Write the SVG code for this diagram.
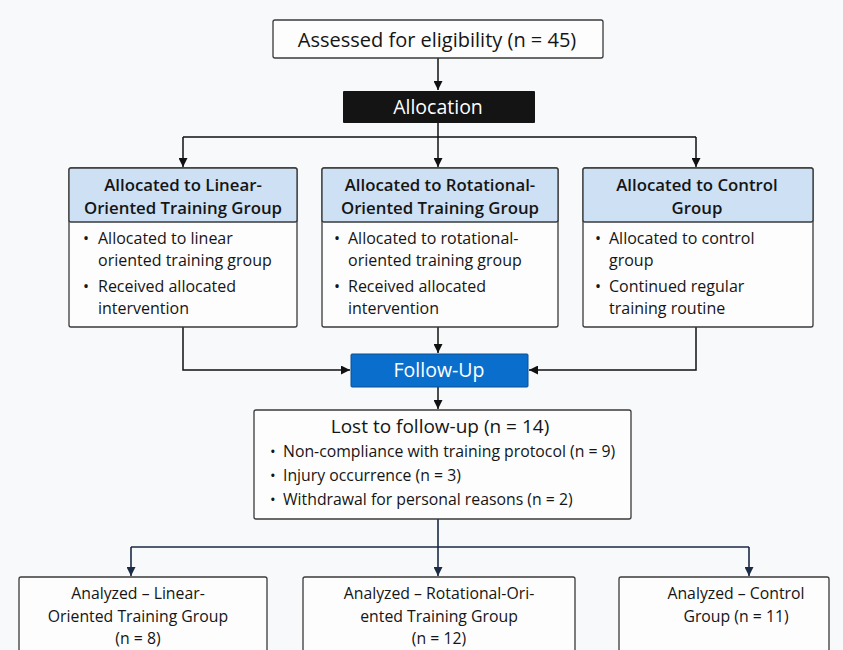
<svg xmlns="http://www.w3.org/2000/svg" width="843" height="650" viewBox="0 0 843 650">
<defs>
<marker id="ah" viewBox="0 0 10 10" refX="10" refY="5" markerWidth="9" markerHeight="9" markerUnits="userSpaceOnUse" orient="auto"><path d="M0,0 L10,5 L0,10 z" fill="#111"/></marker>
<marker id="ahn" viewBox="0 0 10 10" refX="10" refY="5" markerWidth="9" markerHeight="9" markerUnits="userSpaceOnUse" orient="auto"><path d="M0,0 L10,5 L0,10 z" fill="#1b2a45"/></marker>
<style>
text{font-family:"Open Sans","Noto Sans","Liberation Sans",sans-serif;fill:#151515}
.box{fill:#fdfdfd;stroke:#3a3a3a;stroke-width:1.3}
.hdr{fill:#cde0f4;stroke:#3a3a3a;stroke-width:1.3}
.ht{font-size:16.8px;font-weight:600;text-anchor:middle}
.bt{font-size:16px}
.ct{font-size:15.8px;text-anchor:middle}
.c{fill:none;stroke:#111;stroke-width:1.5}
.cn{fill:none;stroke:#1b2a45;stroke-width:1.6}
</style>
</defs>
<rect width="843" height="650" fill="#f8f9fa"/>
<g id="connectors">
<path class="c" d="M438,58 V90" marker-end="url(#ah)"/>
<path class="c" d="M438,123 V137 M183,137 H696"/>
<path class="c" d="M183,137 V167" marker-end="url(#ah)"/>
<path class="c" d="M438,137 V167" marker-end="url(#ah)"/>
<path class="c" d="M696,137 V167" marker-end="url(#ah)"/>
<path class="c" d="M183,327 V370 H350" marker-end="url(#ah)"/>
<path class="c" d="M696,327 V370 H529" marker-end="url(#ah)"/>
<path class="c" d="M438,327 V353" marker-end="url(#ah)"/>
<path class="c" d="M438,387 V409" marker-end="url(#ah)"/>
<path class="cn" d="M438,519 V547 M131,547 H749"/>
<path class="cn" d="M131,547 V576" marker-end="url(#ahn)"/>
<path class="cn" d="M438,547 V576" marker-end="url(#ahn)"/>
<path class="cn" d="M749,547 V576" marker-end="url(#ahn)"/>
</g>
<g id="assessed">
<rect class="box" x="273" y="20" width="330" height="38" rx="2"/>
<text x="437" y="47" text-anchor="middle" font-size="20">Assessed for eligibility (n = 45)</text>
</g>
<g id="allocation">
<rect x="343" y="91" width="192" height="32" fill="#141414" rx="1"/>
<text x="438" y="114" text-anchor="middle" font-size="19.5" style="fill:#fff">Allocation</text>
</g>
<g id="linear">
<rect class="box" x="69" y="168" width="228" height="159" rx="2"/>
<rect class="hdr" x="69" y="168" width="228" height="54" rx="2"/>
<text class="ht" x="183" y="191">Allocated to Linear-</text>
<text class="ht" x="183" y="214">Oriented Training Group</text>
<text class="bt" x="83" y="244">•</text><text class="bt" x="98" y="244">Allocated to linear</text>
<text class="bt" x="98" y="266">oriented training group</text>
<text class="bt" x="83" y="292">•</text><text class="bt" x="98" y="292">Received allocated</text>
<text class="bt" x="98" y="314">intervention</text>
</g>
<g id="rotational">
<rect class="box" x="322" y="168" width="236" height="159" rx="2"/>
<rect class="hdr" x="322" y="168" width="236" height="54" rx="2"/>
<text class="ht" x="440" y="191">Allocated to Rotational-</text>
<text class="ht" x="440" y="214">Oriented Training Group</text>
<text class="bt" x="334" y="244">•</text><text class="bt" x="348" y="244">Allocated to rotational-</text>
<text class="bt" x="348" y="266">oriented training group</text>
<text class="bt" x="334" y="292">•</text><text class="bt" x="348" y="292">Received allocated</text>
<text class="bt" x="348" y="314">intervention</text>
</g>
<g id="control">
<rect class="box" x="583" y="168" width="230" height="159" rx="2"/>
<rect class="hdr" x="583" y="168" width="230" height="54" rx="2"/>
<text class="ht" x="697" y="191">Allocated to Control</text>
<text class="ht" x="697" y="214">Group</text>
<text class="bt" x="595" y="244">•</text><text class="bt" x="609" y="244">Allocated to control</text>
<text class="bt" x="609" y="266">group</text>
<text class="bt" x="595" y="292">•</text><text class="bt" x="609" y="292">Continued regular</text>
<text class="bt" x="609" y="314">training routine</text>
</g>
<g id="followup">
<rect x="351" y="354" width="177" height="33" fill="#0a6fcc" stroke="#0a4f94" stroke-width="1" rx="1"/>
<text x="439" y="377" text-anchor="middle" font-size="19.5" style="fill:#fff">Follow-Up</text>
</g>
<g id="lost">
<rect class="box" x="254" y="410" width="377" height="109" rx="2"/>
<text x="440" y="433" text-anchor="middle" font-size="19">Lost to follow-up (n = 14)</text>
<text x="270" y="457" font-size="15">•</text><text x="283" y="457" font-size="15.8">Non-compliance with training protocol (n = 9)</text>
<text x="270" y="481" font-size="15">•</text><text x="283" y="481" font-size="15.8">Injury occurrence (n = 3)</text>
<text x="270" y="505" font-size="15">•</text><text x="283" y="505" font-size="15.8">Withdrawal for personal reasons (n = 2)</text>
</g>
<g id="analyzed-linear">
<rect class="box" x="19" y="577" width="248" height="90" rx="2"/>
<text class="ct" x="138" y="599">Analyzed – Linear-</text>
<text class="ct" x="138" y="622">Oriented Training Group</text>
<text class="ct" x="138" y="644">(n = 8)</text>
</g>
<g id="analyzed-rotational">
<rect class="box" x="303" y="577" width="272" height="90" rx="2"/>
<text class="ct" x="439" y="599">Analyzed – Rotational-Ori-</text>
<text class="ct" x="439" y="622">ented Training Group</text>
<text class="ct" x="439" y="644">(n = 12)</text>
</g>
<g id="analyzed-control">
<rect class="box" x="619" y="577" width="210" height="90" rx="2"/>
<text class="ct" x="736" y="599">Analyzed – Control</text>
<text class="ct" x="736" y="622">Group (n = 11)</text>
</g>
</svg>
